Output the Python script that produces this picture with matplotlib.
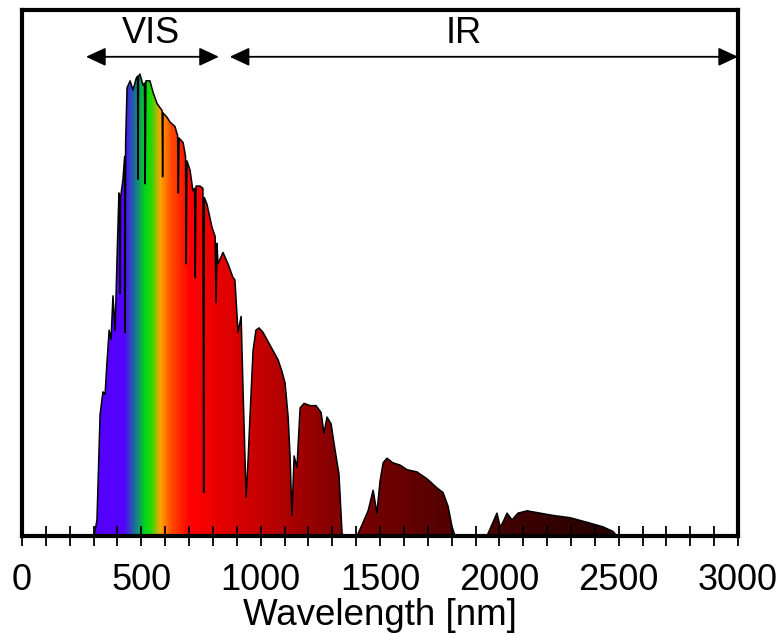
import matplotlib.pyplot as plt
import numpy as np
from matplotlib.patches import Polygon

plt.rcParams['font.family'] = ['Liberation Sans', 'DejaVu Sans']

# solar spectrum (nm, arbitrary irradiance units)
wavelength = [
    302, 314, 327, 339, 348, 356, 365, 373, 381, 390, 398, 406, 409, 411, 413,
    423, 430, 432, 434, 440, 453, 465, 478, 484, 486, 488, 494, 507, 513, 516,
    519, 536, 549, 566, 587, 589, 591, 608, 620, 641, 652, 655, 658, 675, 685,
    688, 691, 704, 716, 723, 726, 729, 746, 758, 761, 764, 775, 796, 809, 813,
    817, 821, 842, 863, 884, 892, 905, 918, 926, 939, 947, 955, 968, 980, 993,
    1010, 1031, 1052, 1073, 1089, 1102, 1115, 1123, 1131, 1140, 1152, 1165,
    1182, 1207, 1232, 1253, 1265, 1278, 1295, 1311, 1328, 1341, 1353, 1404,
    1429, 1450, 1471, 1487, 1500, 1513, 1529, 1554, 1584, 1613, 1655, 1697,
    1739, 1764, 1785, 1802, 1814, 1948, 1973, 1990, 2003, 2015, 2032, 2053,
    2078, 2116, 2170, 2225, 2296, 2367, 2434, 2476, 2493,
]
irradiance = [
    0.00, 0.07, 0.53, 0.63, 0.62, 0.76, 0.90, 0.86, 1.05, 0.90, 1.21, 1.50,
    1.48, 1.06, 1.48, 1.56, 1.66, 0.89, 1.72, 1.96, 1.99, 1.95, 2.00, 2.01,
    1.56, 2.01, 2.02, 1.97, 1.98, 1.54, 1.99, 1.99, 1.94, 1.89, 1.86, 1.57,
    1.85, 1.83, 1.81, 1.79, 1.75, 1.50, 1.74, 1.72, 1.66, 1.19, 1.64, 1.60,
    1.51, 1.52, 1.13, 1.53, 1.53, 1.52, 0.19, 1.48, 1.45, 1.35, 1.31, 1.02,
    1.28, 1.19, 1.24, 1.19, 1.13, 1.12, 0.89, 0.96, 0.64, 0.17, 0.33, 0.52,
    0.81, 0.90, 0.91, 0.89, 0.85, 0.81, 0.77, 0.72, 0.67, 0.52, 0.35, 0.09,
    0.35, 0.30, 0.56, 0.58, 0.57, 0.57, 0.54, 0.45, 0.52, 0.49, 0.38, 0.27,
    0.01, 0.00, 0.00, 0.06, 0.11, 0.20, 0.10, 0.24, 0.32, 0.34, 0.32, 0.31,
    0.29, 0.28, 0.25, 0.21, 0.19, 0.13, 0.04, 0.00, 0.00, 0.06, 0.10, 0.04,
    0.06, 0.10, 0.07, 0.10, 0.11, 0.10, 0.09, 0.08, 0.06, 0.04, 0.02, 0.00,
]
tick_labels = ['0', '500', '1000', '1500', '2000', '2500', '3000']

# colour stops for the wavelength gradient
stop_nm = [280, 425, 472, 515, 540, 578, 622, 700, 800, 1300, 1800, 2600]
stop_rgb = [
    (0.33, 0.0, 1.0), (0.33, 0.0, 1.0), (0.10, 0.45, 0.60), (0.0, 0.85, 0.1),
    (0.15, 0.85, 0.0), (1.0, 0.65, 0.0), (1.0, 0.30, 0.0), (1.0, 0.0, 0.0),
    (0.93, 0.0, 0.0), (0.52, 0.0, 0.0), (0.32, 0.0, 0.0), (0.10, 0.0, 0.0),
]

fig = plt.figure(figsize=(7.81, 6.35), dpi=100)
ax = fig.add_axes([0.0282, 0.1559, 0.9168, 0.8284])
ymax = 2.3

grid = np.linspace(280, 3000, 1200)
rgb = np.array(stop_rgb)
colors = np.stack([np.interp(grid, stop_nm, rgb[:, i]) for i in range(3)], axis=-1)
im = ax.imshow(colors[np.newaxis, :, :], extent=[280, 3000, 0, ymax],
               aspect='auto', interpolation='bilinear', zorder=1)

wl = np.array(wavelength)
val = np.array(irradiance)
verts = np.column_stack([np.r_[wl[0], wl, wl[-1]], np.r_[0, val, 0]])
poly = Polygon(verts, closed=True, transform=ax.transData,
               facecolor='none', edgecolor='none')
ax.add_patch(poly)
im.set_clip_path(poly)

ax.plot(wl, val, color='black', lw=1.1, zorder=3)

ax.set_xlim(0, 3000)
ax.set_ylim(0, ymax)
ax.set_yticks([])
ax.set_xticks(np.arange(0, 3001, 500))
ax.set_xticklabels(tick_labels)
ax.set_xticks(np.arange(0, 3001, 100), minor=True)
ax.tick_params(axis='x', which='both', direction='inout', length=15,
               width=1.3, labelsize=26, pad=12)
for s in ax.spines.values():
    s.set_linewidth(3)
ax.set_xlabel('Wavelength [nm]', fontsize=26.5, labelpad=0)

arrow_y = 0.911
ap = dict(arrowstyle='<|-|>,head_length=0.6,head_width=0.28',
          mutation_scale=20, color='black', lw=1.3, shrinkA=0, shrinkB=0)
ax.annotate('', xy=(825, arrow_y), xytext=(268, arrow_y),
            xycoords=('data', 'axes fraction'),
            textcoords=('data', 'axes fraction'), arrowprops=ap)
ax.annotate('', xy=(3000, arrow_y), xytext=(870, arrow_y),
            xycoords=('data', 'axes fraction'),
            textcoords=('data', 'axes fraction'), arrowprops=ap)
ax.text(540, 0.955, 'VIS', fontsize=26, ha='center', va='center',
        transform=ax.get_xaxis_transform())
ax.text(1850, 0.955, 'IR', fontsize=26, ha='center', va='center',
        transform=ax.get_xaxis_transform())

fig.savefig('out.png', dpi=100)
